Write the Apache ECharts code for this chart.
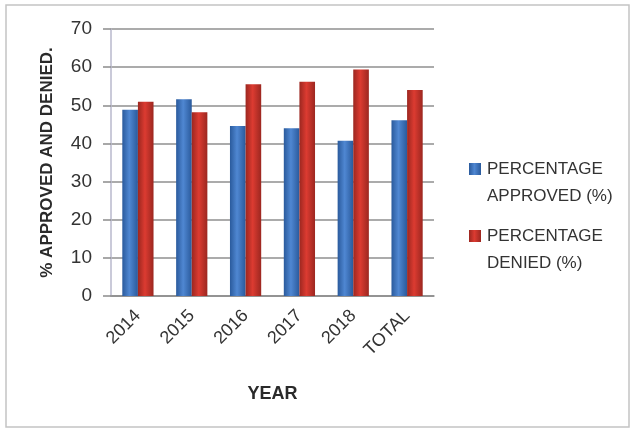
<!DOCTYPE html>
<html>
<head>
<meta charset="utf-8">
<script src="https://cdn.jsdelivr.net/npm/echarts@6/dist/echarts.min.js"></script>
<style>html,body{margin:0;padding:0;background:#fff}#c{width:634px;height:432px}</style>
</head>
<body>
<div id="c"></div>
<script>
const categories = ['2014', '2015', '2016', '2017', '2018', 'TOTAL'];
const approved = [48.8, 51.6, 44.6, 44.0, 40.7, 46.1];
const denied = [50.9, 48.2, 55.5, 56.2, 59.4, 54.0];
const seriesNames = ['PERCENTAGE\nAPPROVED (%)', 'PERCENTAGE\nDENIED (%)'];
const yTicks = { min: 0, max: 70, interval: 10 };

const FONT = '"Liberation Sans", Arial, sans-serif';
function grad(edge, mid) {
  return new echarts.graphic.LinearGradient(0, 0, 1, 0, [
    { offset: 0, color: edge }, { offset: 0.45, color: mid }, { offset: 1, color: edge }
  ]);
}
const legendIcon = 'path://M0,0L12,0L12,12L0,12Z M0,40L0.001,40Z';

const chart = echarts.init(document.getElementById('c'), null, { renderer: 'canvas' });
chart.setOption({
  animation: false,
  backgroundColor: '#ffffff',
  graphic: [{
    type: 'rect', shape: { x: 6, y: 5, width: 623, height: 422 },
    style: { fill: 'none', stroke: '#c4c4c4', lineWidth: 1.5 }, silent: true
  }],
  grid: { left: 111, right: 200, top: 29, bottom: 136 },
  legend: {
    orient: 'vertical', left: 469, top: 156, itemGap: 13, padding: 0,
    itemWidth: 12, itemHeight: 40,
    data: seriesNames.map(n => ({ name: n, icon: legendIcon })),
    textStyle: { fontFamily: FONT, fontSize: 17, color: '#333333', lineHeight: 27, padding: [0, 0, 0, 1] }
  },
  xAxis: {
    type: 'category', data: categories,
    name: 'YEAR', nameLocation: 'middle', nameGap: 89,
    nameTextStyle: { fontFamily: FONT, fontSize: 18, fontWeight: 'bold', color: '#2a2a2a' },
    axisLine: { lineStyle: { color: '#8c8c8c', width: 1.5 } },
    axisTick: { show: false },
    axisLabel: { rotate: 45, margin: 17, fontFamily: FONT, fontSize: 18, color: '#333333', interval: 0 }
  },
  yAxis: {
    type: 'value', min: yTicks.min, max: yTicks.max, interval: yTicks.interval,
    name: '% APPROVED AND DENIED.', nameLocation: 'middle', nameGap: 55, nameRotate: 90,
    nameTextStyle: { fontFamily: FONT, fontSize: 17, fontWeight: 'bold', color: '#2a2a2a' },
    axisLine: { show: true, lineStyle: { color: '#b8b8cc', width: 1.5 } },
    axisTick: { show: true, length: 8, lineStyle: { color: '#8c8c8c', width: 1.5 } },
    axisLabel: { margin: 19, fontFamily: FONT, fontSize: 19, color: '#333333' },
    splitLine: { lineStyle: { color: '#8f8f8f', width: 1.5 } }
  },
  series: [
    { name: seriesNames[0], type: 'bar', data: approved, barGap: '0%', barCategoryGap: '42%',
      itemStyle: { color: grad('#2a5a9c', '#4f87d2') } },
    { name: seriesNames[1], type: 'bar', data: denied, barGap: '0%', barCategoryGap: '42%',
      itemStyle: { color: grad('#9c2720', '#dc3b31') } }
  ]
});
</script>
</body>
</html>
